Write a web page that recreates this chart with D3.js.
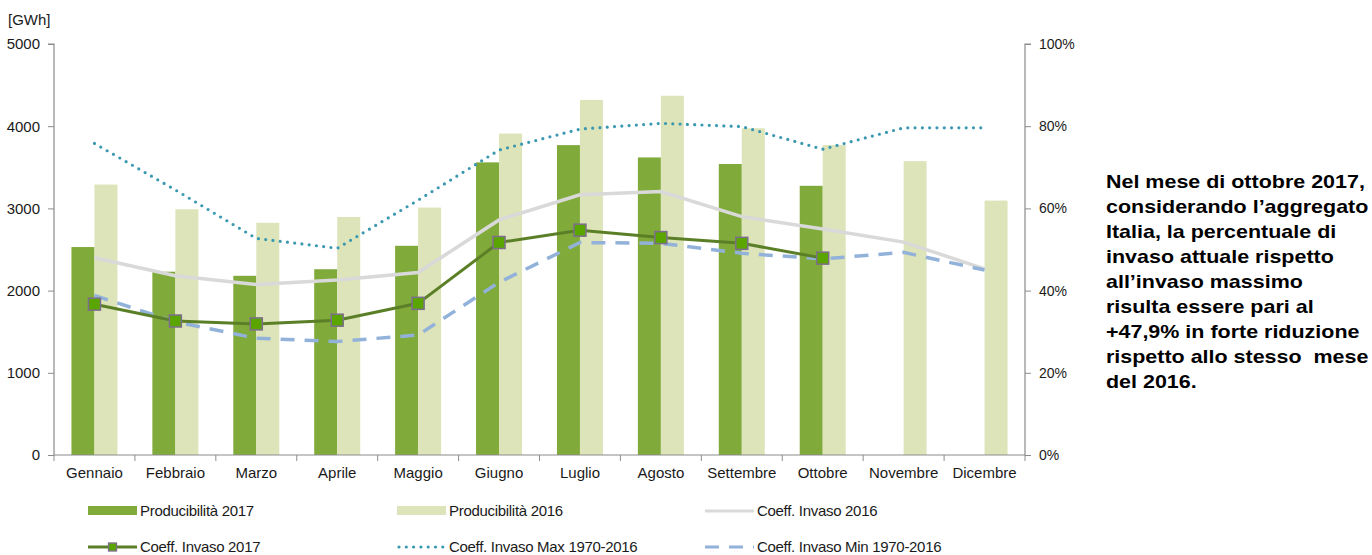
<!DOCTYPE html>
<html><head><meta charset="utf-8">
<script src="https://cdn.jsdelivr.net/npm/d3@7"></script>
<style>body{margin:0;background:#fff}svg{display:block}text{font-family:"Liberation Sans",Arial,sans-serif}</style>
</head><body><svg id="c" width="1372" height="555"></svg>
<script>
const months=["Gennaio","Febbraio","Marzo","Aprile","Maggio","Giugno","Luglio","Agosto","Settembre","Ottobre","Novembre","Dicembre"];
const prod2017=[2530,2230,2180,2260,2545,3560,3770,3620,3540,3275,null,null];
const prod2016=[3290,2990,2825,2895,3010,3910,4320,4370,3975,3770,3575,3095];
const inv2016=[48.0,43.6,41.5,42.6,44.4,57.2,63.3,64.1,58.0,55.0,51.8,45.3];
const inv2017=[36.7,32.6,31.9,32.8,36.9,51.7,54.7,52.9,51.5,47.9,null,null];
const invMax=[75.8,64.5,52.7,50.3,62.0,74.2,79.3,80.7,79.9,74.4,79.6,79.6];
const invMin=[38.8,32.4,28.4,27.6,29.2,42.0,51.7,51.5,49.1,47.7,49.3,45.0];
const leftTicks=[0,1000,2000,3000,4000,5000];
const rightTicks=[0,20,40,60,80,100];
const noteLines=["Nel mese di ottobre 2017,","considerando l’aggregato","Italia, la percentuale di","invaso attuale rispetto","all’invaso massimo","risulta essere pari al","+47,9% in forte riduzione","rispetto allo stesso  mese","del 2016."];

const svg=d3.select("#c");
const L=54,R=1025,T=44,B=455;
const x=d3.scaleBand().domain(months).range([L,R]).paddingInner(0).paddingOuter(0);
const yL=d3.scaleLinear().domain([0,5000]).range([B,T]);
const yR=d3.scaleLinear().domain([0,100]).range([B,T]);
const bw=23;
const axisCol="#8c8c8c";
const fs="15px";

// bars
const g=svg.append("g");
g.selectAll(".b17").data(months.map((m,i)=>({m,v:prod2017[i]})).filter(d=>d.v!=null)).enter().append("rect")
 .attr("x",d=>x(d.m)+x.bandwidth()/2-bw).attr("width",bw).attr("y",d=>yL(d.v)).attr("height",d=>B-yL(d.v)).attr("fill","#80aa3a");
g.selectAll(".b16").data(months.map((m,i)=>({m,v:prod2016[i]}))).enter().append("rect")
 .attr("x",d=>x(d.m)+x.bandwidth()/2).attr("width",bw).attr("y",d=>yL(d.v)).attr("height",d=>B-yL(d.v)).attr("fill","#dee4b9");

const cx=m=>x(m)+x.bandwidth()/2;
const line=d3.line().defined(d=>d.v!=null).x(d=>cx(d.m)).y(d=>yR(d.v));
const ser=a=>months.map((m,i)=>({m,v:a[i]}));
g.append("path").attr("d",line(ser(invMax))).attr("fill","none").attr("stroke","#3a98b0").attr("stroke-width",3.2).attr("stroke-linecap","round").attr("stroke-dasharray","0,7.3");
g.append("path").attr("d",line(ser(inv2016))).attr("fill","none").attr("stroke","#d9d9d9").attr("stroke-width",3.5);
g.append("path").attr("d",line(ser(invMin))).attr("fill","none").attr("stroke","#92b2da").attr("stroke-width",3.5).attr("stroke-dasharray","14,10");
g.append("path").attr("d",line(ser(inv2017))).attr("fill","none").attr("stroke","#5b7f26").attr("stroke-width",3);
g.selectAll(".mk").data(ser(inv2017).filter(d=>d.v!=null)).enter().append("rect")
 .attr("x",d=>cx(d.m)-6).attr("y",d=>yR(d.v)-6).attr("width",12).attr("height",12)
 .attr("fill","#5aa500").attr("stroke","#7d6f8c").attr("stroke-width",1.5);

// axes
const ax=svg.append("g").attr("transform",`translate(${L},0)`).call(d3.axisLeft(yL).tickValues(leftTicks).tickSize(6).tickPadding(8).tickFormat(d3.format("d")));
const ar=svg.append("g").attr("transform",`translate(${R},0)`).call(d3.axisRight(yR).tickValues(rightTicks).tickSize(6).tickPadding(8).tickFormat(d=>d+"%"));
const xb=svg.append("g").attr("transform",`translate(0,${B})`).call(d3.axisBottom(x).tickSize(0).tickPadding(12));
svg.append("g").selectAll("line").data(d3.range(13)).enter().append("line")
 .attr("x1",i=>L+i*x.bandwidth()).attr("x2",i=>L+i*x.bandwidth()).attr("y1",B).attr("y2",B+6).attr("stroke",axisCol);
[ax,ar,xb].forEach(a=>{a.selectAll("path,line").attr("stroke",axisCol);a.select(".domain").attr("stroke-width",1.2);a.selectAll("text").attr("fill","#1a1a1a").style("font-size",fs).style("font-family","Liberation Sans, Arial, sans-serif");});
ar.selectAll("text").style("font-size","14px");
ax.select(".domain").attr("d",`M-6,${T}H0V${B}`);
ar.select(".domain").attr("d",`M6,${T}H0V${B}`);
xb.select(".domain").attr("d",`M${L},0H${R}`);
svg.append("text").attr("x",8).attr("y",25).text("[GWh]").style("font-size",fs).attr("fill","#1a1a1a");

// legend
const leg=[
 {t:"Producibilità 2017",x:88,y:511,type:"bar",c:"#80aa3a"},
 {t:"Producibilità 2016",x:397,y:511,type:"bar",c:"#dee4b9"},
 {t:"Coeff. Invaso 2016",x:705,y:511,type:"line",c:"#d9d9d9"},
 {t:"Coeff. Invaso 2017",x:88,y:547,type:"mk",c:"#5b7f26"},
 {t:"Coeff. Invaso Max 1970-2016",x:397,y:547,type:"dot",c:"#3a98b0"},
 {t:"Coeff. Invaso Min 1970-2016",x:705,y:547,type:"dash",c:"#92b2da"}];
const lg=svg.append("g");
leg.forEach(d=>{
 const w=49;
 if(d.type==="bar") lg.append("rect").attr("x",d.x).attr("y",d.y-5).attr("width",w).attr("height",9).attr("fill",d.c);
 else {
  const p=lg.append("line").attr("x1",d.x).attr("x2",d.x+w).attr("y1",d.y).attr("y2",d.y).attr("stroke",d.c).attr("stroke-width",3.2);
  if(d.type==="dot") p.attr("stroke-dasharray","0,7.3").attr("stroke-linecap","round").attr("x1",d.x+2);
  if(d.type==="dash") p.attr("stroke-dasharray","14,10");
  if(d.type==="mk") lg.append("rect").attr("x",d.x+w/2-4).attr("y",d.y-4).attr("width",8).attr("height",8).attr("fill","#5aa500").attr("stroke","#7d6f8c").attr("stroke-width",1.3);
 }
 lg.append("text").attr("x",d.x+w+3).attr("y",d.y+5).text(d.t).style("font-size",fs).attr("fill","#1a1a1a").style("letter-spacing","-0.3px");
});

// note
const nt=svg.append("text").attr("transform","translate(1106,0) scale(1.13,1)").style("font-size","19px").style("font-weight","bold").style("white-space","pre").attr("fill","#000");
noteLines.forEach((s,i)=>nt.append("tspan").attr("x",0).attr("y",188+i*25).text(s));
</script></body></html>
